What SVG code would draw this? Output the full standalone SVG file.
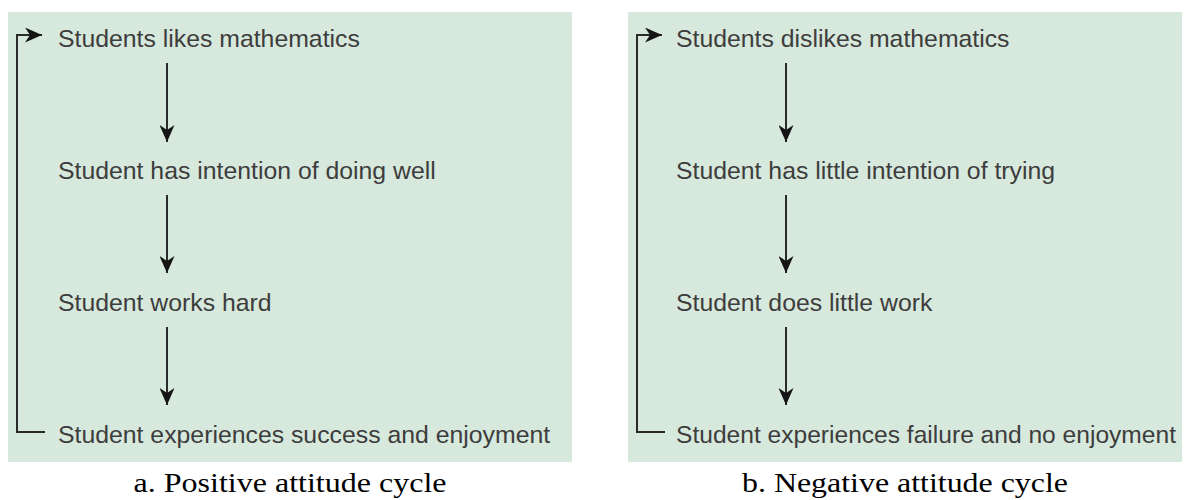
<svg xmlns="http://www.w3.org/2000/svg" width="1184" height="500" viewBox="0 0 1184 500">
<style>
.panel{fill:#d7e8dc;}
.lbl{font-family:"Liberation Sans",Arial,sans-serif;font-size:24.8px;fill:#3d3d3d;}
.cap{font-family:"Liberation Serif","Times New Roman",serif;font-size:28px;fill:#000;text-anchor:middle;}
.con{fill:none;stroke:#2a2a2a;stroke-width:2;}
</style>
<defs>
<marker id="ah" viewBox="0 0 17 15" refX="17" refY="7.5" markerWidth="17" markerHeight="15" markerUnits="userSpaceOnUse" orient="auto">
<path d="M0,0 L17,7.5 L0,15 L5,7.5 Z" fill="#151515"/>
</marker>
</defs>
<rect class="panel" x="8" y="12" width="564" height="450"/>
<rect class="panel" x="628" y="12" width="554" height="450"/>
<g id="connectors">
<path class="con" d="M45,432 H17 V35 H42" marker-end="url(#ah)"/>
<line class="con" x1="167" y1="63" x2="167" y2="142" marker-end="url(#ah)"/>
<line class="con" x1="167" y1="195" x2="167" y2="273" marker-end="url(#ah)"/>
<line class="con" x1="167" y1="327" x2="167" y2="405" marker-end="url(#ah)"/>
<path class="con" d="M665,432 H637 V35 H662" marker-end="url(#ah)"/>
<line class="con" x1="786" y1="63" x2="786" y2="142" marker-end="url(#ah)"/>
<line class="con" x1="786" y1="195" x2="786" y2="273" marker-end="url(#ah)"/>
<line class="con" x1="786" y1="327" x2="786" y2="405" marker-end="url(#ah)"/>
</g>
<g id="a1"><text class="lbl" x="58" y="47">Students likes mathematics</text></g>
<g id="a2"><text class="lbl" x="58" y="179">Student has intention of doing well</text></g>
<g id="a3"><text class="lbl" x="58" y="311">Student works hard</text></g>
<g id="a4"><text class="lbl" x="58" y="443">Student experiences success and enjoyment</text></g>
<g id="b1"><text class="lbl" x="676" y="47">Students dislikes mathematics</text></g>
<g id="b2"><text class="lbl" x="676" y="179">Student has little intention of trying</text></g>
<g id="b3"><text class="lbl" x="676" y="311">Student does little work</text></g>
<g id="b4"><text class="lbl" x="676" y="443" textLength="500" lengthAdjust="spacingAndGlyphs">Student experiences failure and no enjoyment</text></g>
<g id="capA"><text class="cap" x="290" y="492" textLength="313" lengthAdjust="spacingAndGlyphs">a. Positive attitude cycle</text></g>
<g id="capB"><text class="cap" x="905" y="492" textLength="326" lengthAdjust="spacingAndGlyphs">b. Negative attitude cycle</text></g>
</svg>
